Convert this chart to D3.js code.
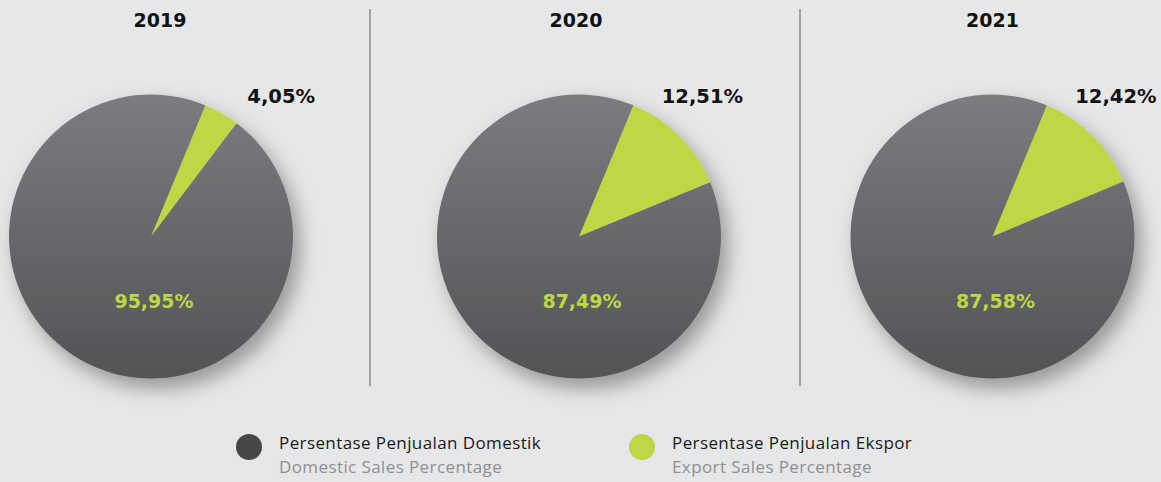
<!DOCTYPE html>
<html>
<head>
<meta charset="utf-8">
<script src="https://cdn.jsdelivr.net/npm/d3@7"></script>
<style>
  html, body { margin: 0; padding: 0; background: #e6e7e8; }
  svg { display: block; }
  text { font-family: "Open Sans", "Lato", sans-serif; }
  text.bold { font-family: "DejaVu Sans", "Open Sans", sans-serif; font-weight: 700; }
</style>
</head>
<body>
<svg id="chart" width="1161" height="482"></svg>
<script>
// Sales composition per year (percent)
const years = ["2019", "2020", "2021"];
const domesticShare = [95.95, 87.49, 87.58];
const exportShare = [4.05, 12.51, 12.42];

// Legend entries
const legendLabels = ["Persentase Penjualan Domestik", "Persentase Penjualan Ekspor"];
const legendSubLabels = ["Domestic Sales Percentage", "Export Sales Percentage"];

// Layout
const pieCenters = [151, 579, 992.5];
const titleCenters = [160, 576, 992.5];
const pieY = 236.5;
const R = 142;
const dividers = [370, 800];
const colors = { exportC: "#bdd745", dark: "#111111", sub: "#8f9092", legendDot: "#474749" };

const svg = d3.select("#chart");
const fmt = d3.formatLocale({ decimal: ",", thousands: ".", grouping: [3], currency: ["", ""] }).format(".2f");

const defs = svg.append("defs");
const grad = defs.append("linearGradient")
  .attr("id", "pieGrad")
  .attr("gradientUnits", "userSpaceOnUse")
  .attr("x1", 0).attr("y1", -R).attr("x2", 0).attr("y2", R);
grad.append("stop").attr("offset", "0%").attr("stop-color", "#7b7c7f");
grad.append("stop").attr("offset", "100%").attr("stop-color", "#525355");

const shadow = defs.append("filter")
  .attr("id", "pieShadow")
  .attr("x", "-30%").attr("y", "-30%").attr("width", "160%").attr("height", "160%");
shadow.append("feDropShadow")
  .attr("dx", 7).attr("dy", 10)
  .attr("stdDeviation", 10)
  .attr("flood-color", "#000")
  .attr("flood-opacity", 0.35);

// Divider lines between years
svg.selectAll("line.divider")
  .data(dividers)
  .join("line")
  .attr("class", "divider")
  .attr("x1", d => d).attr("x2", d => d)
  .attr("y1", 9).attr("y2", 386)
  .attr("stroke", "#8c8d8f")
  .attr("stroke-width", 1.5);

const pie = d3.pie()
  .sort(null)
  .value(d => d.value)
  .startAngle(Math.PI / 8)
  .endAngle(Math.PI / 8 + 2 * Math.PI);
const arc = d3.arc().innerRadius(0).outerRadius(R);

const panels = years.map((y, i) => ({
  year: y,
  cx: pieCenters[i],
  tx: titleCenters[i],
  slices: [
    { key: "export", value: exportShare[i] },
    { key: "domestic", value: domesticShare[i] }
  ]
}));

const panel = svg.selectAll("g.panel")
  .data(panels)
  .join("g")
  .attr("class", "panel");

// Year titles
panel.append("text")
  .attr("class", "bold")
  .attr("x", d => d.tx)
  .attr("y", 27)
  .attr("text-anchor", "middle")
  .attr("font-size", 19)
  .attr("fill", colors.dark)
  .text(d => d.year);

// Pies
const pieG = panel.append("g")
  .attr("transform", d => `translate(${d.cx},${pieY})`)
  .attr("filter", "url(#pieShadow)");

pieG.selectAll("path")
  .data(d => pie(d.slices))
  .join("path")
  .attr("d", arc)
  .attr("fill", d => d.data.key === "export" ? colors.exportC : "url(#pieGrad)");

// Export share label (outside, top right)
panel.append("text")
  .attr("class", "bold")
  .attr("x", d => d.cx + 164)
  .attr("y", 103)
  .attr("text-anchor", "end")
  .attr("font-size", 19.5)
  .attr("fill", colors.dark)
  .text(d => fmt(d.slices[0].value) + "%");

// Domestic share label (inside)
panel.append("text")
  .attr("class", "bold")
  .attr("x", d => d.cx + 3)
  .attr("y", 308)
  .attr("text-anchor", "middle")
  .attr("font-size", 19)
  .attr("fill", colors.exportC)
  .text(d => fmt(d.slices[1].value) + "%");

// Legend
const legendX = [249, 642];
const legendDotColors = [colors.legendDot, colors.exportC];
const lg = svg.selectAll("g.legend")
  .data(legendLabels)
  .join("g")
  .attr("class", "legend")
  .attr("transform", (d, i) => `translate(${legendX[i]},${447})`);
lg.append("circle")
  .attr("r", 13)
  .attr("fill", (d, i) => legendDotColors[i]);
lg.append("text")
  .attr("x", 30).attr("y", 2)
  .attr("font-size", 17)
  .attr("letter-spacing", 0.4)
  .attr("fill", "#1a1a1a")
  .text(d => d);
lg.append("text")
  .attr("x", 30).attr("y", 26)
  .attr("font-size", 17)
  .attr("letter-spacing", 0.4)
  .attr("fill", colors.sub)
  .text((d, i) => legendSubLabels[i]);
</script>
</body>
</html>
